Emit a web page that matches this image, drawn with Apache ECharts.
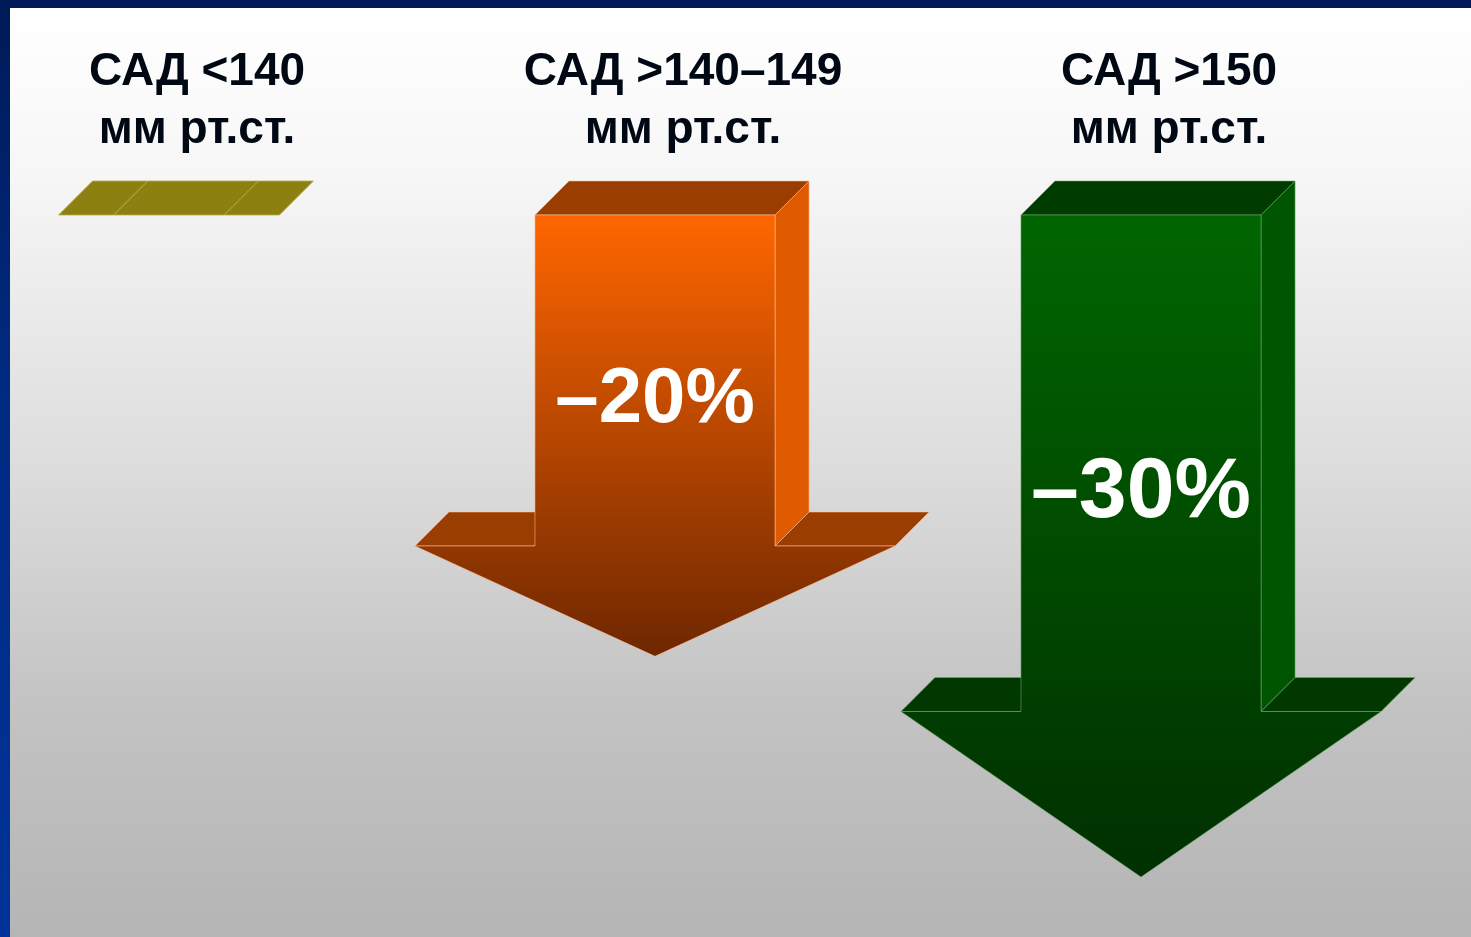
<!DOCTYPE html>
<html>
<head>
<meta charset="utf-8">
<script src="https://cdn.jsdelivr.net/npm/echarts@6/dist/echarts.min.js"></script>
<style>
  html, body {
    margin: 0;
    padding: 0;
    width: 1471px;
    height: 937px;
    overflow: hidden;
    background: linear-gradient(to bottom, #001a57 0%, #002a80 40%, #003399 100%);
  }
  #chart {
    position: absolute;
    left: 10px;
    top: 8px;
    width: 1461px;
    height: 929px;
  }
</style>
</head>
<body>
<div id="chart"></div>
<script>
// данные
const categories = ['САД <140\nмм рт.ст.', 'САД >140–149\nмм рт.ст.', 'САД >150\nмм рт.ст.']
const changes = [0, -20, -30]
const changeLabels = ['', '–20%', '–30%']

// цвета стрелок
const palette = [
  { front: ['#8c8010', '#8c8010'], top: '#8c8010', side: '#8c8010', wing: '#8c8010', edge: '#b8ad45' },
  { front: ['#ff6600', '#6e2700'], top: '#993d00', side: '#e05a00', wing: '#9a3d00', edge: 'rgba(255,190,150,0.7)' },
  { front: ['#006600', '#003000'], top: '#003c00', side: '#005500', wing: '#003800', edge: 'rgba(110,170,110,0.7)' }
]

const DEPTH = 34

const renderArrow = (params, api) => {
  const i = api.value(0)
  const v = api.value(1)
  const start = api.coord([i, 0])
  const tip = api.coord([i, v])
  const band = api.size([1, 0])[0]
  const c = palette[i]

  const cx = start[0]
  const y0 = start[1]
  const len = tip[1] - y0
  const k = v === 0 ? 0.46 : 1 // нулевое изменение — плоская плашка
  const shaftW = band * 0.494 * k
  const headW = band * 0.988 * k
  const yb = y0 + len * 0.75
  const d = DEPTH
  const xs0 = cx - shaftW / 2
  const xs1 = cx + shaftW / 2
  const xh0 = cx - headW / 2
  const xh1 = cx + headW / 2
  const edge = { stroke: c.edge, lineWidth: 0.8 }

  const children = [
    {
      type: 'polygon',
      shape: { points: [[xs1, y0], [xs1 + d, y0 - d], [xs1 + d, yb - d], [xs1, yb]] },
      style: { fill: c.side, ...edge }
    },
    {
      type: 'polygon',
      shape: { points: [[xh0, yb], [xh0 + d, yb - d], [xs0 + d, yb - d], [xs0, yb]] },
      style: { fill: c.wing, ...edge }
    },
    {
      type: 'polygon',
      shape: { points: [[xs1, yb], [xs1 + d, yb - d], [xh1 + d, yb - d], [xh1, yb]] },
      style: { fill: c.wing, ...edge }
    },
    {
      type: 'polygon',
      shape: { points: [[xs0, y0], [xs0 + d, y0 - d], [xs1 + d, y0 - d], [xs1, y0]] },
      style: { fill: c.top, ...edge }
    }
  ]

  if (len > 0) {
    children.push({
      type: 'polygon',
      shape: {
        points: [[xs0, y0], [xs1, y0], [xs1, yb], [xh1, yb], [cx, tip[1]], [xh0, yb], [xs0, yb]]
      },
      style: {
        fill: new echarts.graphic.LinearGradient(0, 0, 0, 1, [
          { offset: 0, color: c.front[0] },
          { offset: 1, color: c.front[1] }
        ]),
        ...edge
      }
    })
    children.push({
      type: 'text',
      x: cx,
      y: y0 + len * 0.42,
      style: {
        text: changeLabels[i],
        fill: '#ffffff',
        font: 'bold ' + Math.round(60 + len * 0.04) + 'px "Liberation Sans", Arial, sans-serif',
        align: 'center',
        verticalAlign: 'middle'
      }
    })
  }

  return { type: 'group', children }
}

const chart = echarts.init(document.getElementById('chart'))

const option = {
  animation: false,
  backgroundColor: new echarts.graphic.LinearGradient(0, 0, 0, 1, [
    { offset: 0, color: '#ffffff' },
    { offset: 0.17, color: '#f7f7f7' },
    { offset: 0.5, color: '#dcdcdc' },
    { offset: 0.75, color: '#c3c3c3' },
    { offset: 1, color: '#b5b5b5' }
  ]),
  grid: {
    left: 159,
    right: 330,
    top: 207,
    bottom: 60
  },
  xAxis: {
    type: 'category',
    data: categories,
    position: 'top',
    boundaryGap: false,
    axisLine: { show: false },
    axisTick: { show: false },
    splitLine: { show: false },
    axisLabel: {
      interval: 0,
      showMinLabel: true,
      showMaxLabel: true,
      margin: 56,
      padding: [0, 0, 0, 56],
      color: '#000814',
      fontSize: 46,
      fontWeight: 'bold',
      lineHeight: 58,
      fontFamily: '"Liberation Sans", Arial, sans-serif'
    }
  },
  yAxis: {
    type: 'value',
    min: -30,
    max: 0,
    show: false
  },
  series: [
    {
      type: 'custom',
      renderItem: renderArrow,
      clip: false,
      data: changes.map((v, i) => [i, v])
    }
  ]
}

chart.setOption(option)
</script>
</body>
</html>
